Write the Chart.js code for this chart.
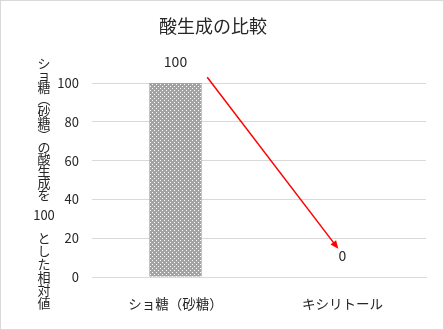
<!DOCTYPE html>
<html>
<head>
<meta charset="utf-8">
<script src="https://cdn.jsdelivr.net/npm/chart.js@4/dist/chart.umd.min.js"></script>
<style>
  html, body { margin: 0; padding: 0; background: #fff; }
  #wrap { width: 442px; height: 328px; border: 1px solid #d9d9d9; position: relative; }
  canvas { position: absolute; left: -1px; top: -1px; }
</style>
</head>
<body>
<div id="wrap"><canvas id="c" width="444" height="330"></canvas></div>
<script>
// values
const categories = ['ショ糖（砂糖）', 'キシリトール'];
const acidValues = [100, 0];
const yTicks = [0, 20, 40, 60, 80, 100];
const chartTitle = '酸生成の比較';
const yTitleTop = ['シ','ョ','糖','︵','砂','糖','︶','の','酸','生','成','を'];
const yTitleMid = '100';
const yTitleBottom = ['と','し','た','相','対','値'];
// arrow in data units: [category index, value]
const arrowFrom = [0.19, 103];
const arrowTo = [0.975, 14.5];

const FONT = '"Noto Sans CJK JP", "Noto Sans", sans-serif';

// dotted gray fill like the Excel pattern
function makePattern() {
  const p = document.createElement('canvas');
  p.width = 4; p.height = 4;
  const g = p.getContext('2d');
  g.fillStyle = '#a3a3a3';
  g.fillRect(0, 0, 4, 4);
  g.fillStyle = '#ffffff';
  g.fillRect(0, 0, 1, 1);
  g.fillRect(2, 2, 1, 1);
  return g.createPattern(p, 'repeat');
}

const extras = {
  id: 'extras',
  afterDatasetsDraw(chart) {
    const ctx = chart.ctx;
    const x = chart.scales.x, y = chart.scales.y;
    ctx.save();
    // value labels above each bar
    ctx.font = '14px ' + FONT;
    ctx.fillStyle = '#262626';
    ctx.textAlign = 'center';
    ctx.textBaseline = 'middle';
    acidValues.forEach((v, i) => {
      ctx.fillText(String(v), x.getPixelForValue(i), y.getPixelForValue(v) - 21);
    });
    // red arrow
    const x1 = x.getPixelForValue(arrowFrom[0]), y1 = y.getPixelForValue(arrowFrom[1]);
    const x2 = x.getPixelForValue(arrowTo[0]), y2 = y.getPixelForValue(arrowTo[1]);
    const ang = Math.atan2(y2 - y1, x2 - x1);
    const head = 9;
    ctx.strokeStyle = '#ff0000';
    ctx.fillStyle = '#ff0000';
    ctx.lineWidth = 1.5;
    ctx.beginPath();
    ctx.moveTo(x1, y1);
    ctx.lineTo(x2 - Math.cos(ang) * head * 0.8, y2 - Math.sin(ang) * head * 0.8);
    ctx.stroke();
    ctx.beginPath();
    ctx.moveTo(x2, y2);
    ctx.lineTo(x2 - head * Math.cos(ang - 0.4), y2 - head * Math.sin(ang - 0.4));
    ctx.lineTo(x2 - head * Math.cos(ang + 0.4), y2 - head * Math.sin(ang + 0.4));
    ctx.closePath();
    ctx.fill();
    // stacked vertical y-axis title
    ctx.fillStyle = '#262626';
    ctx.font = '13px ' + FONT;
    yTitleTop.forEach((ch, i) => ctx.fillText(ch, 44, 63 + i * 12));
    ctx.fillText(yTitleMid, 44, 215);
    yTitleBottom.forEach((ch, i) => ctx.fillText(ch, 44, 238 + i * 13));
    ctx.restore();
  }
};

new Chart(document.getElementById('c'), {
  type: 'bar',
  data: {
    labels: categories,
    datasets: [{
      data: acidValues,
      backgroundColor: makePattern(),
      borderWidth: 0,
      categoryPercentage: 1,
      barPercentage: 0.313
    }]
  },
  options: {
    responsive: false,
    animation: false,
    layout: { padding: { left: 0, right: 18, top: 0, bottom: 0 } },
    plugins: {
      legend: { display: false },
      tooltip: { enabled: false },
      title: {
        display: true,
        text: chartTitle,
        color: '#262626',
        font: { family: FONT, size: 18, weight: 'normal' },
        padding: { top: 15, bottom: 46.4 }
      }
    },
    scales: {
      x: {
        grid: { display: false },
        border: { display: true, color: '#d9d9d9' },
        ticks: { color: '#262626', font: { family: FONT, size: 13.5 }, padding: 11, maxRotation: 0 },
        afterFit(s) { s.height = 53; }
      },
      y: {
        min: 0,
        max: 100,
        afterBuildTicks(s) { s.ticks = yTicks.map(v => ({ value: v })); },
        grid: { color: '#d9d9d9', drawTicks: false },
        border: { display: false },
        ticks: { color: '#262626', font: { family: FONT, size: 13 }, padding: 13 },
        afterFit(s) { s.width = 92; }
      }
    }
  },
  plugins: [extras]
});
</script>
</body>
</html>
